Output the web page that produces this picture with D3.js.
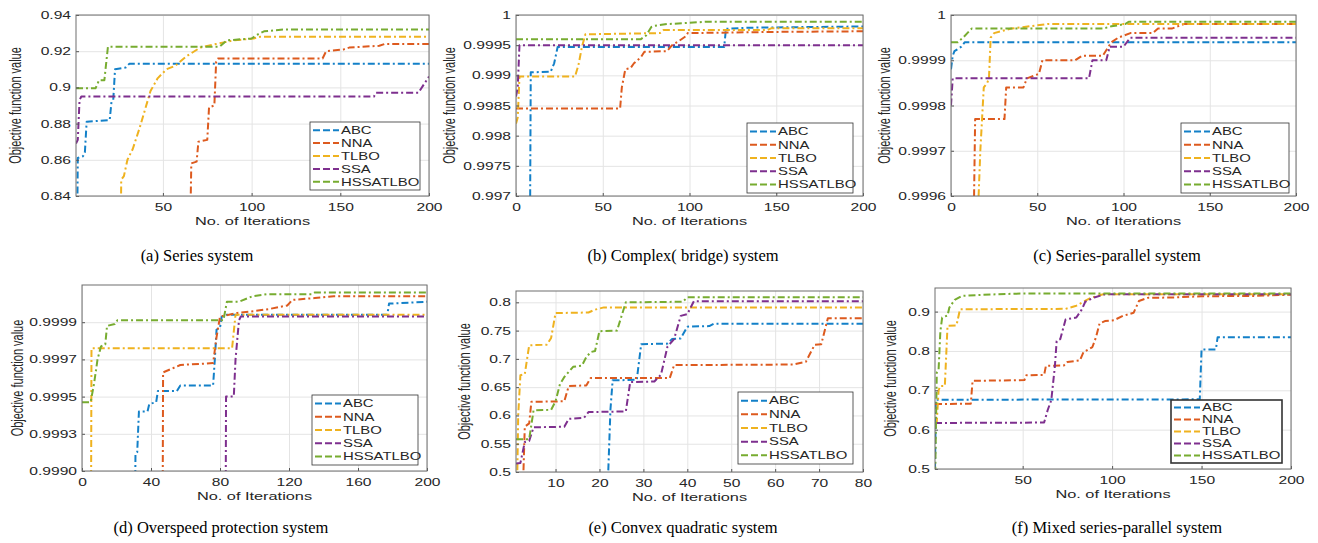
<!DOCTYPE html>
<meta charset="utf-8">
<html>
<head>
<script src="https://cdnjs.cloudflare.com/ajax/libs/d3/7.8.5/d3.min.js"></script>
<style>
  body { margin: 0; background: #fff; }
  svg text { font-family: "Liberation Sans", Arial, sans-serif; fill: #262626; }
  .caption { font-family: "Liberation Serif", "Times New Roman", serif; font-size: 16.5px; fill: #000; }
  .grid line { stroke: #e4e4e4; }
  .grid path { display: none; }
  .axis path { display: none; }
  .axis line { stroke: #555; }
</style>
</head>
<body>
<svg id="fig"></svg>
<script>
var names = ["ABC", "NNA", "TLBO", "SSA", "HSSATLBO"];
var colors = ["#1380c8", "#dd5a1e", "#efb21f", "#7e2f8e", "#77ac30"];

// (a) Series system
var a_ABC = [[1.5,0.80],[2,0.861],[5,0.862],[6,0.864],[7,0.881],[20,0.882],[21,0.892],[22,0.893],[23,0.910],[29,0.911],[31,0.913],[200,0.913]];
var a_NNA = [[65,0.80],[66,0.858],[69,0.859],[70,0.870],[75,0.871],[76,0.889],[79,0.890],[80,0.914],[81,0.916],[140,0.916],[142,0.920],[152,0.921],[155,0.922],[172,0.923],[175,0.924],[200,0.924]];
var a_TLBO = [[26,0.80],[26.5,0.849],[28,0.851],[30,0.860],[33,0.866],[37,0.878],[40,0.888],[43,0.898],[47,0.905],[52,0.910],[57,0.912],[63,0.917],[71,0.922],[80,0.924],[90,0.926],[101,0.927],[105,0.928],[200,0.928]];
var a_SSA = [[1,0.869],[2,0.871],[3,0.893],[4,0.895],[169,0.895],[170,0.897],[194,0.897],[200,0.906]];
var a_HSS = [[1,0.8995],[12,0.8995],[14,0.904],[17,0.904],[19,0.9225],[82,0.9225],[86,0.926],[100,0.927],[103,0.929],[107,0.931],[118,0.932],[200,0.932]];

// (b) Complex (bridge) system
var b_ABC = [[8,0.996],[8.5,0.99905],[20,0.99906],[22,0.9992],[24,0.99947],[120,0.99947],[121,0.99977],[135,0.99979],[200,0.99981]];
var b_NNA = [[0,0.99845],[60,0.99845],[61,0.9988],[63,0.9991],[66,0.99912],[68,0.9992],[72,0.9993],[74,0.99939],[87,0.9994],[90,0.9995],[94,0.99957],[98,0.99965],[99,0.9997],[150,0.99972],[200,0.99973]];
var b_TLBO = [[0,0.9982],[1,0.9983],[2,0.99898],[34,0.99898],[36,0.99917],[38,0.99947],[40,0.99968],[83,0.9997],[85,0.99975],[145,0.99975],[147,0.99978],[200,0.99978]];
var b_SSA = [[0,0.99865],[1,0.9988],[2,0.9995],[200,0.9995]];
var b_HSS = [[0,0.9996],[72,0.9996],[75,0.99966],[78,0.9998],[80,0.99982],[87,0.99985],[100,0.99987],[110,0.99989],[200,0.99989]];

// (c) Series-parallel system
var c_ABC = [[0,0.99988],[1,0.99991],[2,0.99992],[6,0.99993],[8,0.99994],[200,0.99994]];
var c_NNA = [[13,0.9995],[14,0.99977],[31,0.99977],[32,0.99984],[42,0.99984],[44,0.99986],[51,0.99987],[53,0.9999],[72,0.9999],[76,0.99991],[88,0.99991],[93,0.99994],[97,0.99995],[104,0.99996],[117,0.99996],[120,0.99997],[128,0.99997],[135,0.99998],[200,0.99998]];
var c_TLBO = [[15,0.9995],[17,0.9997],[19,0.99984],[21,0.99985],[22,0.99986],[23,0.99995],[25,0.99996],[35,0.99997],[56,0.99998],[200,0.99998]];
var c_SSA = [[0,0.9998],[1,0.99986],[80,0.99986],[82,0.9999],[90,0.9999],[92,0.99993],[100,0.99993],[104,0.99995],[200,0.99995]];
var c_HSS = [[0,0.99994],[4,0.99994],[7,0.99995],[12,0.99997],[88,0.99997],[93,0.999975],[101,0.99998],[103,0.999985],[200,0.999985]];

// (d) Overspeed protection system
var d_ABC = [[30,0.998],[31,0.99909],[32,0.9991],[33,0.99932],[38,0.99932],[39,0.99936],[43,0.99937],[44,0.99943],[55,0.99943],[57,0.99946],[76,0.99946],[77,0.9996],[78,0.99976],[80,0.99977],[81,0.99983],[84,0.99984],[177,0.99984],[178,0.9999],[200,0.99991]];
var d_NNA = [[46.5,0.998],[47,0.99953],[52,0.99955],[57,0.99957],[76,0.99958],[78,0.99972],[80,0.99983],[90,0.99985],[100,0.99986],[108,0.99987],[119,0.99989],[122,0.99992],[135,0.99993],[146,0.99994],[200,0.99994]];
var d_TLBO = [[5,0.998],[5.5,0.99966],[87,0.99966],[89,0.99984],[200,0.99984]];
var d_SSA = [[83,0.998],[83.5,0.9994],[88,0.9994],[89,0.9996],[91,0.99981],[92,0.99983],[200,0.99983]];
var d_HSS = [[0,0.99937],[5,0.99937],[7,0.99947],[9,0.9996],[11,0.99967],[13.5,0.99968],[14.5,0.99978],[19,0.99979],[20.5,0.99981],[82,0.99981],[84,0.99991],[91,0.99991],[99,0.99994],[107,0.99995],[133,0.99995],[135,0.99996],[200,0.99996]];

// (e) Convex quadratic system
var e_ABC = [[21.5,0.45],[22,0.5],[22.5,0.61],[23,0.662],[28.5,0.663],[29.5,0.726],[35.5,0.727],[36.5,0.735],[38.5,0.736],[40,0.757],[45,0.758],[46,0.762],[80,0.762]];
var e_NNA = [[2.5,0.45],[3,0.58],[4,0.586],[4.5,0.624],[12,0.625],[13,0.652],[17,0.653],[18,0.666],[36,0.666],[37,0.689],[64,0.69],[67,0.695],[69,0.725],[70.5,0.726],[72,0.772],[80,0.772]];
var e_TLBO = [[1.2,0.45],[1.5,0.6],[2,0.671],[3,0.673],[4,0.724],[8,0.725],[9,0.737],[10,0.781],[17.5,0.782],[19,0.787],[21,0.791],[80,0.791]];
var e_SSA = [[1,0.515],[2,0.516],[3,0.553],[4,0.555],[5,0.579],[12,0.58],[13,0.594],[16.5,0.596],[17.5,0.606],[26,0.607],[27,0.659],[32.5,0.66],[34,0.672],[35.5,0.722],[37,0.735],[38.5,0.776],[40,0.779],[41.5,0.802],[80,0.802]];
var e_HSS = [[1,0.558],[4,0.558],[5,0.609],[9,0.61],[10,0.625],[11,0.655],[12,0.668],[14,0.686],[16,0.688],[17,0.703],[18,0.712],[19,0.714],[20,0.749],[24,0.75],[26,0.8],[39,0.801],[40,0.809],[80,0.809]];

// (f) Mixed series-parallel system
var f_ABC = [[1,0.5],[1.5,0.676],[149,0.677],[150,0.804],[158,0.804],[159,0.835],[200,0.835]];
var f_NNA = [[1,0.665],[21,0.666],[22,0.724],[51,0.726],[52,0.738],[62,0.739],[63,0.762],[73,0.763],[75,0.772],[82,0.776],[84,0.797],[89,0.81],[91,0.835],[93,0.87],[96,0.876],[101,0.878],[106,0.889],[112,0.897],[115,0.927],[120,0.935],[135,0.936],[150,0.939],[180,0.94],[200,0.943]];
var f_TLBO = [[1,0.614],[2,0.62],[3,0.7],[4,0.711],[6.5,0.711],[8,0.864],[13,0.865],[15,0.906],[74,0.907],[80,0.915],[88,0.935],[95,0.944],[200,0.944]];
var f_SSA = [[1,0.617],[62,0.618],[64,0.65],[66,0.675],[68,0.76],[69,0.825],[71,0.83],[74,0.88],[80,0.885],[83,0.905],[85,0.925],[90,0.936],[96,0.944],[200,0.944]];
var f_HSS = [[1,0.45],[1.5,0.6],[2,0.745],[3,0.752],[4,0.85],[5,0.885],[8,0.89],[9,0.91],[12,0.93],[16,0.94],[35,0.944],[50,0.946],[200,0.946]];

// tick values / labels
var a_yTicks = [0.84, 0.86, 0.88, 0.9, 0.92, 0.94];
var a_yLabels = ["0.84", "0.86", "0.88", "0.9", "0.92", "0.94"];
var b_yTicks = [0.997, 0.9975, 0.998, 0.9985, 0.999, 0.9995, 1];
var b_yLabels = ["0.997", "0.9975", "0.998", "0.9985", "0.999", "0.9995", "1"];
var c_yTicks = [0.9996, 0.9997, 0.9998, 0.9999, 1];
var c_yLabels = ["0.9996", "0.9997", "0.9998", "0.9999", "1"];
var d_yTicks = [0.999, 0.9992, 0.9994, 0.9996, 0.9998];
var d_yLabels = ["0.9990", "0.9993", "0.9995", "0.9997", "0.9999"];
var e_yTicks = [0.5, 0.55, 0.6, 0.65, 0.7, 0.75, 0.8];
var e_yLabels = ["0.5", "0.55", "0.6", "0.65", "0.7", "0.75", "0.8"];
var f_yTicks = [0.5, 0.6, 0.7, 0.8, 0.9];
var f_yLabels = ["0.5", "0.6", "0.7", "0.8", "0.9"];

var xTicks200 = [0, 50, 100, 150, 200];
var xTicks200b = [50, 100, 150, 200];
var xTicksD = [0, 40, 80, 120, 160, 200];
var xTicksE = [10, 20, 30, 40, 50, 60, 70, 80];

var SX = 1.42; // the source figure is stretched horizontally

var panels = [
  { box: [76, 15, 429, 196], xDom: [1, 200], xTicks: xTicks200b, yDom: [0.84, 0.94], yTicks: a_yTicks, yLabels: a_yLabels,
    yLabX: 16, leg: [310, 122, 110, 68], legW: 0.8, cap: "(a) Series system", capX: 197, capY: 261,
    data: [a_ABC, a_NNA, a_TLBO, a_SSA, a_HSS] },
  { box: [516, 15, 863, 196], xDom: [0, 200], xTicks: xTicks200, yDom: [0.997, 1], yTicks: b_yTicks, yLabels: b_yLabels,
    yLabX: 450, leg: [747, 123, 106, 70], legW: 0.8, cap: "(b) Complex( bridge) system", capX: 683, capY: 261,
    data: [b_ABC, b_NNA, b_TLBO, b_SSA, b_HSS] },
  { box: [951, 15, 1296, 196], xDom: [0, 200], xTicks: xTicks200, yDom: [0.9996, 1], yTicks: c_yTicks, yLabels: c_yLabels,
    yLabX: 885, leg: [1181, 123, 108, 70], legW: 0.8, cap: "(c) Series-parallel system", capX: 1117, capY: 261,
    data: [c_ABC, c_NNA, c_TLBO, c_SSA, c_HSS] },
  { box: [82, 285, 427, 471], xDom: [0, 200], xTicks: xTicksD, yDom: [0.999, 1], yTicks: d_yTicks, yLabels: d_yLabels,
    yLabX: 18, leg: [312, 395, 106, 70], legW: 0.8, cap: "(d) Overspeed protection system", capX: 221, capY: 533,
    data: [d_ABC, d_NNA, d_TLBO, d_SSA, d_HSS] },
  { box: [516, 291, 863, 472], xDom: [1, 80], xTicks: xTicksE, yDom: [0.5, 0.82], yTicks: e_yTicks, yLabels: e_yLabels,
    yLabX: 465, leg: [738, 392, 115, 72], legW: 0.8, cap: "(e) Convex quadratic system", capX: 683, capY: 533,
    data: [e_ABC, e_NNA, e_TLBO, e_SSA, e_HSS] },
  { box: [935, 288, 1291, 469], xDom: [1, 200], xTicks: xTicks200b, yDom: [0.5, 0.96], yTicks: f_yTicks, yLabels: f_yLabels,
    yLabX: 891, leg: [1171, 400, 111, 63], legW: 1.6, cap: "(f) Mixed series-parallel system", capX: 1117, capY: 533,
    data: [f_ABC, f_NNA, f_TLBO, f_SSA, f_HSS] }
];

var svg = d3.select("#fig").attr("width", 1318).attr("height", 543);

panels.forEach(function (p, pi) {
  var l = p.box[0], t = p.box[1], r = p.box[2], b = p.box[3];
  var w = r - l, h = b - t;

  var x = d3.scaleLinear().domain(p.xDom).range([0, w]);
  var y = d3.scaleLinear().domain(p.yDom).range([h, 0]);

  var g = svg.append("g").attr("transform", "translate(" + l + "," + t + ")");

  // grid
  g.append("g").attr("class", "grid")
    .call(d3.axisBottom(x).tickValues(p.xTicks).tickSize(h).tickFormat(""));
  g.append("g").attr("class", "grid")
    .call(d3.axisLeft(y).tickValues(p.yTicks).tickSize(-w).tickFormat(""));

  // curves
  g.append("clipPath").attr("id", "clip" + pi)
    .append("rect").attr("width", w).attr("height", h);

  var line = d3.line()
    .x(function (d) { return x(d[0]); })
    .y(function (d) { return y(d[1]); });

  var lines = g.append("g").attr("clip-path", "url(#clip" + pi + ")");
  p.data.forEach(function (s, i) {
    lines.append("path")
      .attr("d", line(s))
      .attr("fill", "none")
      .attr("stroke", colors[i])
      .attr("stroke-width", 2)
      .attr("stroke-dasharray", "7,3,2,3")
      .attr("stroke-linejoin", "round");
  });

  // axes
  var ax = g.append("g").attr("class", "axis").attr("transform", "translate(0," + h + ")")
    .call(d3.axisBottom(x).tickValues(p.xTicks).tickSize(-3).tickPadding(7).tickFormat(d3.format("d")));
  ax.selectAll("text").attr("font-size", 11).attr("fill", "#262626")
    .attr("transform", "scale(" + SX + ",1)");

  var ay = g.append("g").attr("class", "axis")
    .call(d3.axisLeft(y).tickValues(p.yTicks).tickSize(-3).tickPadding(5)
      .tickFormat(function (d, i) { return p.yLabels[i]; }));
  ay.selectAll("text").attr("font-size", 11).attr("fill", "#262626")
    .attr("x", -5 / SX)
    .attr("transform", "scale(" + SX + ",1)");

  g.append("rect").attr("width", w).attr("height", h)
    .attr("fill", "none").attr("stroke", "#6e6e6e").attr("stroke-width", 1);

  // axis titles
  g.append("text")
    .attr("transform", "translate(" + (w / 2) + "," + (h + 29) + ") scale(" + SX + ",1)")
    .attr("text-anchor", "middle")
    .attr("font-size", 11.5)
    .text("No. of Iterations");

  svg.append("text")
    .attr("transform", "translate(" + (p.yLabX + 5) + "," + (t + h / 2) + ") rotate(-90) scale(1," + SX + ")")
    .attr("text-anchor", "middle")
    .attr("font-size", 11)
    .text("Objective function value");

  // legend
  var lg = svg.append("g").attr("transform", "translate(" + p.leg[0] + "," + p.leg[1] + ")");
  var lh = p.leg[3];
  lg.append("rect").attr("width", p.leg[2]).attr("height", lh)
    .attr("fill", "#fff").attr("stroke", "#333").attr("stroke-width", p.legW);
  names.forEach(function (n, i) {
    var yy = lh * 0.12 + i * lh * 0.19;
    lg.append("line")
      .attr("x1", 3).attr("x2", 29).attr("y1", yy).attr("y2", yy)
      .attr("stroke", colors[i]).attr("stroke-width", 2)
      .attr("stroke-dasharray", "7,3");
    lg.append("text")
      .attr("transform", "translate(31," + (yy + 3.8) + ") scale(" + SX + ",1)")
      .attr("font-size", 10.5)
      .text(n);
  });

  // caption
  svg.append("text").attr("class", "caption")
    .attr("x", p.capX).attr("y", p.capY)
    .attr("text-anchor", "middle")
    .text(p.cap);
});
</script>
</body>
</html>
